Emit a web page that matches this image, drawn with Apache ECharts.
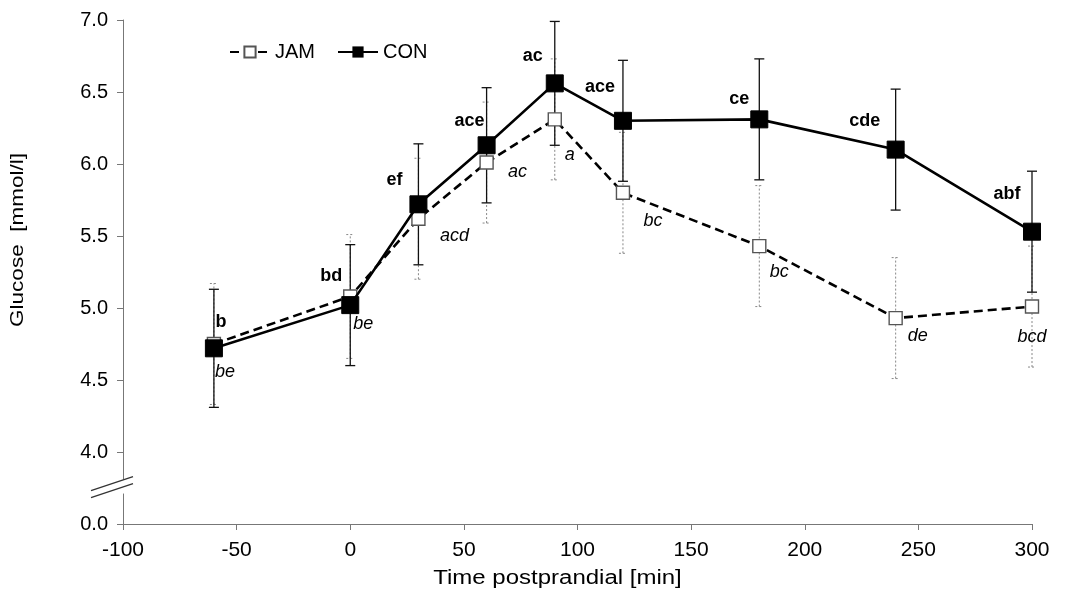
<!DOCTYPE html>
<html>
<head>
<meta charset="utf-8">
<script src="https://cdn.jsdelivr.net/npm/echarts@6/dist/echarts.min.js"></script>
<style>
  html, body { margin: 0; padding: 0; background: #fff; }
  #chart { width: 1073px; height: 589px; }
</style>
</head>
<body>
<div id="chart"></div>
<script>
// Sampling times (min relative to meal)
const times = [-60, 0, 30, 60, 90, 120, 180, 240, 300];

// Mean blood glucose and SD (mmol/l)
const jamMean = [4.75, 5.08, 5.62, 6.01, 6.31, 5.80, 5.43, 4.93, 5.01];
const jamSD   = [0.42, 0.43, 0.42, 0.42, 0.42, 0.42, 0.42, 0.42, 0.42];
const conMean = [4.72, 5.02, 5.72, 6.13, 6.56, 6.30, 6.31, 6.10, 5.53];
const conSD   = [0.41, 0.42, 0.42, 0.40, 0.43, 0.42, 0.42, 0.42, 0.42];

// Significance letters
const conLetters = ['b', 'bd', 'ef', 'ace', 'ac', 'ace', 'ce', 'cde', 'abf'];
const jamLetters = ['be', 'be', 'acd', 'ac', 'a', 'bc', 'bc', 'de', 'bcd'];
const groupMark = { time: 240, text: '(*)' };

// Y-axis tick values; the lowest tick stands for 0.0 below the axis break
const yTicks = [3.5, 4.0, 4.5, 5.0, 5.5, 6.0, 6.5, 7.0];
const yTickText = ['0.0', '4.0', '4.5', '5.0', '5.5', '6.0', '6.5', '7.0'];

// Axis titles
const xTitle = 'Time postprandial [min]';
const yTitle = 'Glucose  [mmol/l]';

// Label placement around each marker (pixels)
const conLabelOffset = [[7,-26],[-19,-29],[-24,-24],[-17,-24],[-22,-27],[-23,-34],[-20,-20],[-31,-29],[-25,-38]];
const jamLabelOffset = [[11,28],[13,28],[36,17],[31,9],[15,36],[30,28],[20,26],[22,18],[0,30]];

const chart = echarts.init(document.getElementById('chart'));

function pointData(means, letters, offsets) {
  return times.map((t, i) => ({
    value: [t, means[i]],
    letter: letters[i],
    label: { offset: offsets[i] }
  }));
}

function errData(means, sds) {
  return times.map((t, i) => [t, means[i] - sds[i], means[i] + sds[i]]);
}

function errRender(style, capW) {
  return function (params, api) {
    const x = api.value(0);
    const lo = api.coord([x, api.value(1)]);
    const hi = api.coord([x, api.value(2)]);
    return {
      type: 'group',
      children: [
        { type: 'line', shape: { x1: lo[0], y1: lo[1], x2: hi[0], y2: hi[1] }, style: style },
        { type: 'line', shape: { x1: hi[0] - capW, y1: hi[1], x2: hi[0] + capW, y2: hi[1] }, style: style },
        { type: 'line', shape: { x1: lo[0] - capW, y1: lo[1], x2: lo[0] + capW, y2: lo[1] }, style: style }
      ]
    };
  };
}

const font = 'Liberation Sans, Arial, sans-serif';

const option = {
  animation: false,
  backgroundColor: '#fff',
  grid: { left: 123, right: 41, top: 20, bottom: 65 },
  legend: {
    left: 224, top: 37,
    itemWidth: 40, itemHeight: 14, itemGap: 22,
    textStyle: { fontFamily: font, fontSize: 20, color: '#000' },
    data: ['JAM', 'CON']
  },
  xAxis: {
    type: 'value',
    min: -100, max: 300, interval: 50,
    splitLine: { show: false },
    axisLine: { onZero: false, lineStyle: { color: '#777', width: 1 } },
    axisTick: { show: true, length: 6, lineStyle: { color: '#777' } },
    axisLabel: { fontFamily: font, fontSize: 21, color: '#000', margin: 16 }
  },
  yAxis: {
    type: 'value',
    min: 3.5, max: 7.0, interval: 0.5,
    splitLine: { show: false },
    axisLine: { show: true, onZero: false, lineStyle: { color: '#777', width: 1 } },
    axisTick: { show: true, length: 6, lineStyle: { color: '#777' } },
    axisLabel: {
      fontFamily: font, fontSize: 20, color: '#000', margin: 15,
      formatter: v => {
        const i = yTicks.findIndex(t => Math.abs(t - v) < 1e-6);
        return i >= 0 ? yTickText[i] : '';
      }
    }
  },
  series: [
    {
      type: 'custom', name: 'JAM-err', silent: true, z: 1,
      renderItem: errRender({ stroke: '#888', lineWidth: 1, lineDash: [2, 2] }, 4),
      encode: { x: 0, y: [1, 2] },
      data: errData(jamMean, jamSD)
    },
    {
      type: 'custom', name: 'CON-err', silent: true, z: 1,
      renderItem: errRender({ stroke: '#111', lineWidth: 1.3 }, 5),
      encode: { x: 0, y: [1, 2] },
      data: errData(conMean, conSD)
    },
    {
      name: 'JAM', type: 'line', z: 3,
      symbol: 'rect', symbolSize: 13,
      lineStyle: { color: '#000', width: 2.6, type: [9, 5] },
      itemStyle: { color: '#fff', borderColor: '#555', borderWidth: 1.4 },
      label: {
        show: true, position: 'inside',
        fontFamily: font, fontSize: 18, fontStyle: 'italic', color: '#000',
        formatter: p => p.data.letter
      },
      data: pointData(jamMean, jamLetters, jamLabelOffset)
    },
    {
      name: 'CON', type: 'line', z: 4,
      symbol: 'rect', symbolSize: 17,
      lineStyle: { color: '#000', width: 2.6 },
      itemStyle: { color: '#000', borderColor: '#000' },
      label: {
        show: true, position: 'inside',
        fontFamily: font, fontSize: 18, fontWeight: 'bold', color: '#000',
        formatter: p => p.data.letter
      },
      markPoint: {
        symbol: 'none',
        label: {
          show: true, fontFamily: font, fontSize: 18, fontWeight: 'bold', color: '#000',
          formatter: groupMark.text
        },
        data: [{
          coord: [groupMark.time, conMean[times.indexOf(groupMark.time)] + conSD[times.indexOf(groupMark.time)] + 0.11]
        }]
      },
      data: pointData(conMean, conLetters, conLabelOffset)
    }
  ]
};

chart.setOption(option);

// Axis break mark "//" on the y axis between 0.0 and 4.0, plus axis titles
const pBreak = chart.convertToPixel({ gridIndex: 0 }, [-100, 3.76]);
const xMid = chart.convertToPixel({ gridIndex: 0 }, [100, 3.5]);
chart.setOption({
  graphic: [
    {
      type: 'rect',
      shape: { x: pBreak[0] - 2, y: pBreak[1] - 7, width: 4, height: 14 },
      style: { fill: '#fff' }, z: 10
    },
    {
      type: 'line',
      shape: { x1: pBreak[0] - 32, y1: pBreak[1] + 4, x2: pBreak[0] + 10, y2: pBreak[1] - 10 },
      style: { stroke: '#333', lineWidth: 1.2 }, z: 11
    },
    {
      type: 'line',
      shape: { x1: pBreak[0] - 32, y1: pBreak[1] + 11, x2: pBreak[0] + 10, y2: pBreak[1] - 3 },
      style: { stroke: '#333', lineWidth: 1.2 }, z: 11
    },
    {
      type: 'text',
      x: xMid[0] - 20, y: 578, scaleX: 1.2,
      style: {
        text: xTitle, fontFamily: font, fontSize: 20, fill: '#000',
        textAlign: 'center', textVerticalAlign: 'middle'
      }
    },
    {
      type: 'text',
      x: 18, y: 240, rotation: Math.PI / 2, scaleX: 1.25,
      style: {
        text: yTitle, fontFamily: font, fontSize: 18, fill: '#000',
        textAlign: 'center', textVerticalAlign: 'middle'
      }
    }
  ]
});
</script>
</body>
</html>
